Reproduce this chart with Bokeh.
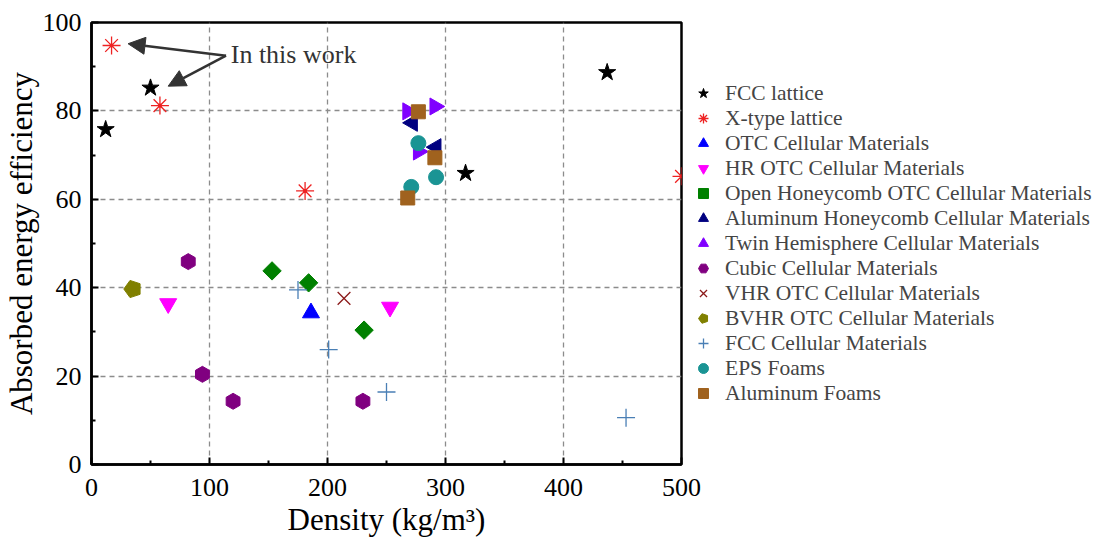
import numpy as np
from bokeh.plotting import figure
from bokeh.models import Legend, LegendItem, Label, Arrow, NormalHead, Range1d, FixedTicker
from bokeh.embed import file_html
from bokeh.resources import INLINE

# ---- data (density kg/m3, absorbed energy efficiency) ----
fcc_lattice_x = [12, 50, 317, 437]
fcc_lattice_y = [75.8, 85.2, 65.9, 88.7]
xtype_x = [17, 58, 181, 500]
xtype_y = [94.8, 81.2, 61.9, 65.2]
otc_x = [186]
otc_y = [34.3]
hr_otc_x = [65, 253]
hr_otc_y = [36.4, 35.6]
open_hc_x = [153, 184, 231]
open_hc_y = [43.8, 41.1, 30.4]
al_hc_x = [272, 292]
al_hc_y = [77.3, 71.8]
twin_x = [268, 291, 277]
twin_y = [79.9, 81.0, 70.8]
cubic_x = [82, 94, 120, 230]
cubic_y = [45.9, 20.4, 14.3, 14.3]
vhr_x = [214]
vhr_y = [37.6]
bvhr_x = [35]
bvhr_y = [39.7]
fcc_cell_x = [175, 201, 250, 453]
fcc_cell_y = [39.5, 26.0, 16.4, 10.6]
eps_x = [277, 292, 271]
eps_y = [72.7, 65.0, 62.8]
al_foam_x = [277, 291, 268]
al_foam_y = [79.8, 69.4, 60.3]

annot_text = "In this work"
annot_xy = (118, 92.8)
arrow_start = (114, 92.5)
arrow_ends = [(31, 95.2), (65, 85.6)]

FONT = "Liberation Serif"

p = figure(output_backend="svg", toolbar_location=None,
           x_range=Range1d(0, 500), y_range=Range1d(0, 100),
           min_border_left=85, min_border_right=2, min_border_top=22, min_border_bottom=60)
p.frame_width = 590
p.frame_height = 442
p.outline_line_color = "black"
p.outline_line_width = 2.5
p.outline_line_alpha = 1
p.background_fill_color = "white"
p.border_fill_color = "white"

for ax in (p.xaxis[0], p.yaxis[0]):
    ax.axis_line_width = 2.5
    ax.major_tick_in = 7
    ax.major_tick_out = 0
    ax.minor_tick_in = 4
    ax.minor_tick_out = 0
    ax.major_tick_line_width = 2
    ax.minor_tick_line_width = 2
    ax.major_label_text_font = FONT
    ax.major_label_text_font_size = "26px"
    ax.major_label_text_color = "black"
    ax.axis_label_text_font = FONT
    ax.axis_label_text_font_size = "31px"
    ax.axis_label_text_font_style = "normal"
    ax.axis_label_text_color = "black"

p.xaxis[0].ticker = FixedTicker(ticks=[0, 100, 200, 300, 400, 500], minor_ticks=[50, 150, 250, 350, 450])
p.yaxis[0].ticker = FixedTicker(ticks=[0, 20, 40, 60, 80, 100], minor_ticks=[10, 30, 50, 70, 90])
p.xaxis.axis_label = "Density (kg/m³)"
p.yaxis.axis_label = "Absorbed energy efficiency"
p.xaxis.major_label_standoff = 14
p.yaxis.major_label_standoff = 10
p.xaxis.axis_label_standoff = 3
p.yaxis.axis_label_standoff = 1

p.xgrid.ticker = FixedTicker(ticks=[100, 200, 300, 400])
p.ygrid.ticker = FixedTicker(ticks=[20, 40, 60, 80])
for g in (p.xgrid[0], p.ygrid[0]):
    g.grid_line_color = "#8c8c8c"
    g.grid_line_dash = "5 4"
    g.grid_line_width = 1.3

items = []
r = p.scatter(fcc_lattice_x, fcc_lattice_y, marker="star", size=18, color="black")
items.append(LegendItem(label="FCC lattice", renderers=[r]))
r = p.scatter(xtype_x, xtype_y, marker="asterisk", size=18, line_color="#ee2222", line_width=1.3)
p.scatter(xtype_x, xtype_y, marker="circle", size=3, color="#ee2222")
items.append(LegendItem(label="X-type lattice", renderers=[r]))
r = p.scatter(otc_x, otc_y, marker="triangle", size=17, color="#0000ff")
items.append(LegendItem(label="OTC Cellular Materials", renderers=[r]))
r = p.scatter(hr_otc_x, hr_otc_y, marker="inverted_triangle", size=17, color="#ff00ff")
items.append(LegendItem(label="HR OTC Cellular Materials", renderers=[r]))
r = p.scatter(open_hc_x, open_hc_y, marker="square", angle=np.pi / 4, size=13, color="#008000")
items.append(LegendItem(label="Open Honeycomb OTC Cellular Materials", renderers=[r]))
r = p.scatter(al_hc_x, al_hc_y, marker="triangle", angle=np.pi / 2, size=17, color="#000080")
items.append(LegendItem(label="Aluminum Honeycomb Cellular Materials", renderers=[r]))
r = p.scatter(twin_x, twin_y, marker="triangle", angle=-np.pi / 2, size=17, color="#8000ff")
items.append(LegendItem(label="Twin Hemisphere Cellular Materials", renderers=[r]))
r = p.scatter(cubic_x, cubic_y, marker="hex", angle=np.pi / 2, size=16, color="#800080")
items.append(LegendItem(label="Cubic Cellular Materials", renderers=[r]))
r = p.scatter(vhr_x, vhr_y, marker="x", size=18, line_color="#8b1a1a", line_width=1.3)
items.append(LegendItem(label="VHR OTC Cellular Materials", renderers=[r]))
r = p.ngon(bvhr_x, bvhr_y, radius=9, radius_units="screen", n=5, angle=np.pi / 2,
           fill_color="#808000", line_color="#808000")
items.append(LegendItem(label="BVHR OTC Cellular Materials", renderers=[r]))
r = p.scatter(fcc_cell_x, fcc_cell_y, marker="cross", size=18, line_color="#4a7fb5", line_width=1.3)
items.append(LegendItem(label="FCC Cellular Materials", renderers=[r]))
r = p.scatter(eps_x, eps_y, marker="circle", size=15, color="#1a9494")
items.append(LegendItem(label="EPS Foams", renderers=[r]))
r = p.scatter(al_foam_x, al_foam_y, marker="square", size=14, color="#a0621e")
items.append(LegendItem(label="Aluminum Foams", renderers=[r]))

legend = Legend(items=items, location="center_left", padding=0, margin=0, spacing=0,
                glyph_width=44, glyph_height=25, label_height=25, label_standoff=0,
                label_text_font=FONT, label_text_font_size="21.5px",
                border_line_alpha=0, background_fill_alpha=0)
p.add_layout(legend, "right")

for ex, ey in arrow_ends:
    p.add_layout(Arrow(x_start=arrow_start[0], y_start=arrow_start[1], x_end=ex, y_end=ey,
                       line_color="#333333", line_width=2.5,
                       end=NormalHead(size=17, fill_color="#333333", line_color="#333333")))
p.add_layout(Label(x=annot_xy[0], y=annot_xy[1], text=annot_text, text_font=FONT,
                   text_font_size="26px", text_color="#333333", text_baseline="middle"))

open("out.html", "w").write(file_html(p, INLINE))
